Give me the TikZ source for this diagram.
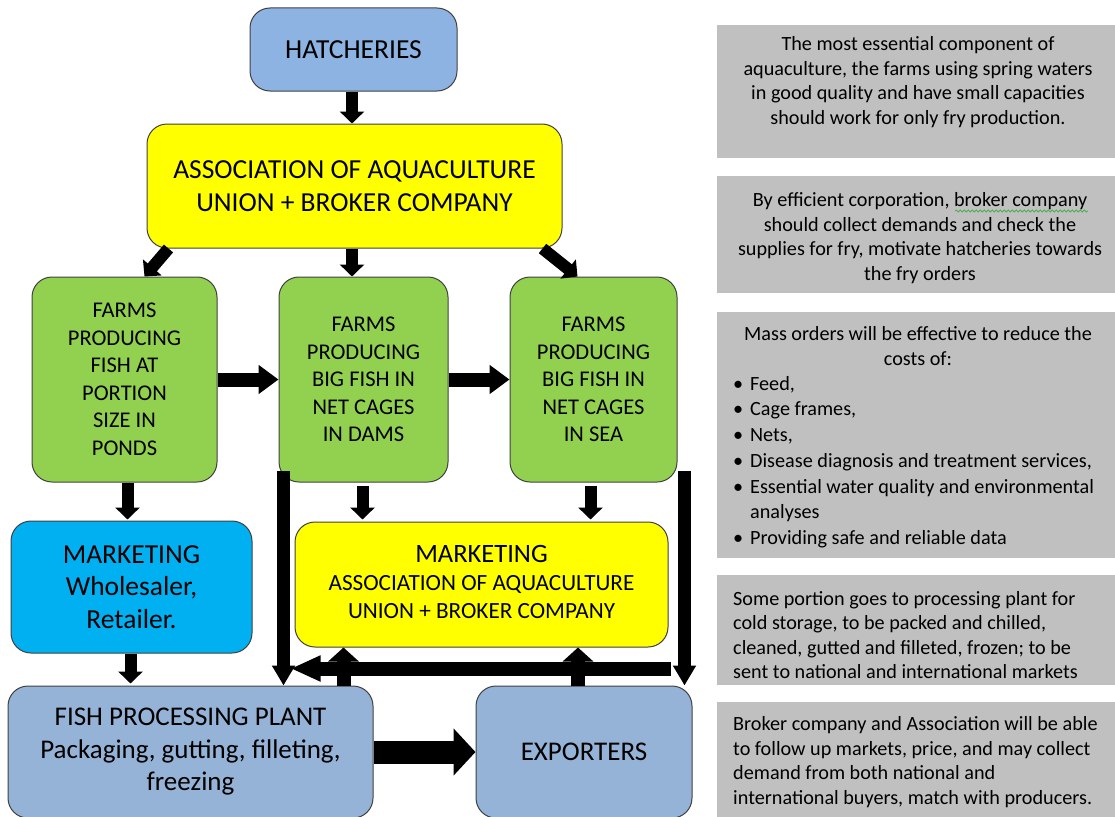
\documentclass[tikz,border=0pt]{standalone}
\usepackage{fontspec}
\setmainfont{Carlito}
\usetikzlibrary{arrows.meta,calc,decorations.pathmorphing}
\definecolor{hblue}{HTML}{8DB3E2}
\definecolor{pblue}{HTML}{95B3D7}
\definecolor{fgreen}{HTML}{92D050}
\definecolor{cyanb}{HTML}{00B0F0}
\definecolor{yel}{HTML}{FFFF00}
\definecolor{gbox}{HTML}{C0C0C0}
\definecolor{edge}{HTML}{404040}
\definecolor{squig}{HTML}{4CAF50}
\begin{document}
\begin{tikzpicture}[x=1pt,y=-1pt,
  box/.style={draw=edge,line width=1pt,rounded corners=20pt,align=center,inner sep=0pt},
  big/.style={font=\fontsize{27.5}{32.5}\selectfont},
  mid/.style={font=\fontsize{22.5}{27.5}\selectfont},
  note/.style={fill=gbox,draw=none,inner sep=0pt},
  ntext/.style={font=\fontsize{20.2}{24.5}\selectfont,inner sep=0pt},
  arr/.style={line width=12pt,-{Triangle[width=24pt,length=12pt]}},
  harr/.style={line width=14pt,-{Triangle[width=28pt,length=20pt]}},
  varr/.style={line width=13pt,-{Triangle[width=22pt,length=20pt]}},
  uarr/.style={line width=14pt,-{Triangle[width=30pt,length=14pt]}},
  barr/.style={line width=23pt,-{Triangle[width=46pt,length=22pt]}}
]
\useasboundingbox (0,0) rectangle (1115,816);

% gray note boxes
\node[note,minimum width=398pt,minimum height=133pt] (n1) at (916,91.5) {};
\node[note,minimum width=398pt,minimum height=117pt] (n2) at (916,234.5) {};
\node[note,minimum width=398pt,minimum height=246pt] (n3) at (916,435) {};
\node[note,minimum width=398pt,minimum height=110pt] (n4) at (916,630) {};
\node[note,minimum width=398pt,minimum height=120pt] (n5) at (916,762) {};

\node[ntext,align=center] (t1) at (918,82) {The most essential component of\\aquaculture, the farms using spring waters\\in good quality and have small capacities\\should work for only fry production.};
\node[ntext,align=center] (t2) at (920,238) {By efficient corporation, broker company\\should collect demands and check the\\supplies for fry, motivate hatcheries towards\\the fry orders};
\draw[squig,line width=0.8pt,decorate,decoration={snake,amplitude=1pt,segment length=4pt}] (955,211) -- (1088,211);
\node[ntext,align=center] (t3) at (918,346) {Mass orders will be effective to reduce the\\costs of:};
\node[ntext,font=\fontsize{20.2}{25.7}\selectfont,align=left,anchor=north west] (t3b) at (733,376) {\makebox[17pt][l]{•}Feed,\\
\makebox[17pt][l]{•}Cage frames,\\
\makebox[17pt][l]{•}Nets,\\
\makebox[17pt][l]{•}Disease diagnosis and treatment services,\\
\makebox[17pt][l]{•}Essential water quality and environmental\\
\hspace*{17pt}analyses\\
\makebox[17pt][l]{•}Providing safe and reliable data};
\node[ntext,align=left,anchor=west] (t4) at (733,635) {Some portion goes to processing plant for\\cold storage, to be packed and chilled,\\cleaned, gutted and filleted, frozen; to be\\sent to national and international markets};
\node[ntext,align=left,anchor=west] (t5) at (733,762) {Broker company and Association will be able\\to follow up markets, price, and may collect\\demand from both national and\\international buyers, match with producers.};

% main boxes
\node[box,big,fill=hblue,minimum width=207pt,minimum height=83pt] (hatch) at (353.5,49.5) {HATCHERIES};
\node[box,big,fill=yel,minimum width=415pt,minimum height=124pt] (assoc) at (354.5,186) {ASSOCIATION OF AQUACULTURE\\UNION + BROKER COMPANY};
\node[box,mid,fill=fgreen,minimum width=185pt,minimum height=205pt] (farm1) at (124.5,379.5) {FARMS\\PRODUCING\\FISH AT\\PORTION\\SIZE IN\\PONDS};
\node[box,mid,fill=fgreen,minimum width=169pt,minimum height=205pt] (farm2) at (363.5,379.5) {FARMS\\PRODUCING\\BIG FISH IN\\NET CAGES\\IN DAMS};
\node[box,mid,fill=fgreen,minimum width=167pt,minimum height=205pt] (farm3) at (593.5,379.5) {FARMS\\PRODUCING\\BIG FISH IN\\NET CAGES\\IN SEA};
\node[box,big,fill=cyanb,minimum width=241pt,minimum height=132pt] (mkt1) at (131.5,587) {MARKETING\\Wholesaler,\\Retailer.};
\node[box,fill=yel,minimum width=373pt,minimum height=125pt] (mkt2) at (481.5,584.5) {};
\node[font=\fontsize{23.2}{28}\selectfont,align=center,inner sep=0pt] (mkt2t) at (481.5,582) {{\fontsize{26.5}{28}\selectfont MARKETING}\\ASSOCIATION OF AQUACULTURE\\UNION + BROKER COMPANY};
\node[box,big,font=\fontsize{27}{32.5}\selectfont,fill=pblue,minimum width=365pt,minimum height=132pt] (fpp) at (190.5,752) {FISH PROCESSING PLANT\\Packaging, gutting, filleting,\\freezing};
\node[box,big,font=\fontsize{27}{32.5}\selectfont,fill=pblue,minimum width=216pt,minimum height=132pt] (exp) at (584,752) {EXPORTERS};

% arrows
\draw[arr] (hatch.south -| 352,0) -- (assoc.north -| 352,0);
\draw[arr] ($(assoc.south west)+(22,0)$) -- ($(farm1.north)+(20,0)$);
\draw[arr] (assoc.south -| 352,0) -- (farm2.north -| 352,0);
\draw[arr] ($(assoc.south east)+(-20,0)$) -- ($(farm3.north)+(-16,0)$);
\draw[harr] (farm1.east) -- (farm2.west);
\draw[harr] (farm2.east) -- (farm3.west);
\draw[arr] ($(farm1.south)+(3,0)$) -- ($(farm1.south |- mkt1.north)+(3,-1)$);
\draw[arr] ($(farm2.south)+(-1,3)$) -- ($(farm2.south |- mkt2.north)+(-1,-2)$);
\draw[arr] ($(farm3.south)+(-3,3)$) -- ($(farm3.south |- mkt2.north)+(-3,-2)$);
\draw[arr] ($(mkt1.south)+(-1,0)$) -- ($(mkt1.south |- fpp.north)+(-1,-2)$);

\coordinate (l1) at ($(farm2.south west)+(5,-12)$);
\coordinate (r1) at ($(farm3.south east)+(7,-12)$);
\coordinate (hr) at ($(exp.north east)+(-22,-17)$);
\draw[varr] (l1) -- (l1 |- fpp.north);
\draw[varr] (r1) -- (r1 |- exp.north);
\draw[harr,-{Triangle[width=24pt,length=30pt]}] (hr) -- ($(l1 |- hr)+(7,0)$);
\coordinate (u1) at ($(fpp.north west)+(336,0)$);
\coordinate (u2) at ($(exp.north)+(-6,0)$);
\draw[uarr] (u1) -- (u1 |- mkt2.south);
\draw[uarr] (u2) -- (u2 |- mkt2.south);
\draw[barr] (fpp.east) -- (exp.west);
\end{tikzpicture}
\end{document}
